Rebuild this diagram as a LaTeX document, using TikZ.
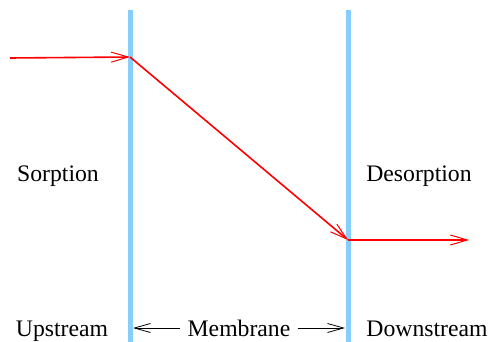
\documentclass[tikz,border=0pt]{standalone}
\usepackage{fontspec}
\setmainfont{Liberation Serif}
\usetikzlibrary{arrows.meta}
\definecolor{barblue}{RGB}{135,206,250}
\begin{document}
\begin{tikzpicture}[x=1pt,y=-1pt,
  bar/.style={draw=barblue,line width=5pt},
  flow/.style={draw=red,line width=1.6pt,-{Straight Barb[length=17pt,width=10pt,line width=1pt]}},
  lbl/.style={font=\fontsize{23.7}{28}\selectfont,inner sep=0pt,anchor=base},
  dim/.style={draw=black,line width=0.8pt,-{Straight Barb[length=16pt,width=9pt,line width=0.8pt]}}]
\useasboundingbox (0,0) rectangle (490,342);
\coordinate (b1t) at (130,10);
\coordinate (b1b) at (130,342);
\coordinate (b2t) at (348,10);
\coordinate (b2b) at (348,342);
\draw[bar] (b1t) -- (b1b);
\draw[bar] (b2t) -- (b2b);
\coordinate (p0) at (10,58);
\coordinate (p1) at (130,57);
\coordinate (p2) at (348,240);
\coordinate (p3) at (469,240);
\draw[flow] (p0) -- (p1);
\draw[flow] (p1) -- (p2);
\draw[flow] (p2) -- (p3);
\node[lbl] (sorp) at (58,182) {Sorption};
\node[lbl] (desorp) at (419,182) {Desorption};
\node[lbl] (up) at (62,336) {Upstream};
\node[lbl] (mem) at (239,336) {Membrane};
\node[lbl] (down) at (427,336) {Downstream};
\coordinate (ml) at (133,328);
\coordinate (mr) at (345,328);
\draw[dim] (mem.west |- ml) ++(-7,0) -- (ml);
\draw[dim] (mem.east |- mr) ++(7,0) -- (mr);
\end{tikzpicture}
\end{document}
